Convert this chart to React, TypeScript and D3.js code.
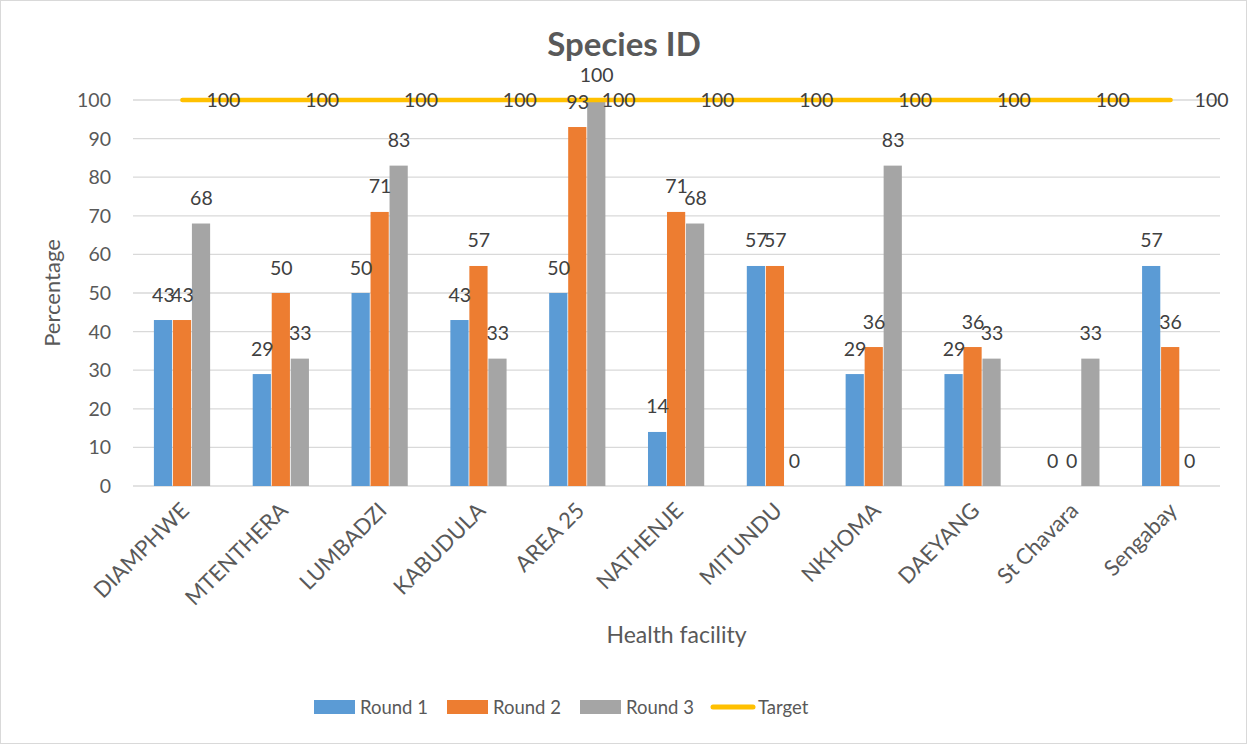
import React from "react";
import * as d3 from "d3";

// Facilities and per-round percentages
const facilities = [
  "DIAMPHWE", "MTENTHERA", "LUMBADZI", "KABUDULA", "AREA 25", "NATHENJE",
  "MITUNDU", "NKHOMA", "DAEYANG", "St Chavara", "Sengabay",
];
const round1 = [43, 29, 50, 43, 50, 14, 57, 29, 29, 0, 57];
const round2 = [43, 50, 71, 57, 93, 71, 57, 36, 36, 0, 36];
const round3 = [68, 33, 83, 33, 100, 68, 0, 83, 33, 33, 0];
const target = [100, 100, 100, 100, 100, 100, 100, 100, 100, 100, 100];
const yTicks = [0, 10, 20, 30, 40, 50, 60, 70, 80, 90, 100];

const seriesNames = ["Round 1", "Round 2", "Round 3"];
const seriesColors = ["#5B9BD5", "#ED7D31", "#A5A5A5"];
const targetColor = "#FFC000";

const W = 1247;
const H = 744;
const FONT = "Lato, 'Open Sans', sans-serif";

export default function App() {
  const plotLeft = 133;
  const plotRight = 1220;
  const plotTop = 100;
  const plotBottom = 486;

  const x0 = d3
    .scaleBand<string>()
    .domain(facilities)
    .range([plotLeft, plotRight])
    .paddingInner(0.423)
    .paddingOuter(0.2115);
  const x1 = d3
    .scaleBand<number>()
    .domain([0, 1, 2])
    .range([0, x0.bandwidth()]);
  const y = d3.scaleLinear().domain([0, 100]).range([plotBottom, plotTop]);

  const series = [round1, round2, round3];
  const center = (f: string) => (x0(f) as number) + x0.bandwidth() / 2;

  const targetLine = d3
    .line<number>()
    .x((_, i) => center(facilities[i]))
    .y((d) => y(d));

  const legendItems = [
    { label: seriesNames[0], color: seriesColors[0], x: 314, type: "bar" },
    { label: seriesNames[1], color: seriesColors[1], x: 447, type: "bar" },
    { label: seriesNames[2], color: seriesColors[2], x: 580, type: "bar" },
    { label: "Target", color: targetColor, x: 711, type: "line" },
  ];

  return (
    <div style={{ position: "absolute", left: 0, top: 0 }}>
      <svg width={W} height={H} style={{ display: "block", fontFamily: FONT }}>
        <rect x={0} y={0} width={W} height={H} fill="#fff" />
        <rect x={0.5} y={0.5} width={W - 1} height={H - 1} fill="none" stroke="#D9D9D9" />

        {/* title */}
        <text x={624} y={56} textAnchor="middle" fontSize={33} fontWeight="bold" fill="#595959">
          Species ID
        </text>

        {/* gridlines and y tick labels */}
        {yTicks.map((t) => (
          <g key={t}>
            <line x1={plotLeft} x2={plotRight} y1={y(t)} y2={y(t)} stroke="#D9D9D9" strokeWidth={1.3} />
            <text x={111} y={y(t) + 7} textAnchor="end" fontSize={19.5} fill="#595959">
              {t}
            </text>
          </g>
        ))}

        {/* bars */}
        {series.map((vals, si) =>
          vals.map((v, i) => {
            const bx = (x0(facilities[i]) as number) + (x1(si) as number);
            return (
              <rect
                key={`b${si}-${i}`}
                x={bx}
                y={y(v)}
                width={x1.bandwidth() - 0.8}
                height={y(0) - y(v)}
                fill={seriesColors[si]}
              />
            );
          })
        )}

        {/* target line */}
        <path d={targetLine(target) || ""} fill="none" stroke={targetColor} strokeWidth={4.5} strokeLinecap="round" />

        {/* bar value labels */}
        {series.map((vals, si) =>
          vals.map((v, i) => {
            const cx = (x0(facilities[i]) as number) + (x1(si) as number) + x1.bandwidth() / 2;
            return (
              <text
                key={`l${si}-${i}`}
                x={cx}
                y={y(v) - 18.5}
                textAnchor="middle"
                fontSize={19.5}
                fill="#404040"
              >
                {v}
              </text>
            );
          })
        )}

        {/* target value labels */}
        {target.map((v, i) => (
          <text key={`t${i}`} x={center(facilities[i]) + 24} y={y(v) + 7} fontSize={19.5} fill="#404040">
            {v}
          </text>
        ))}

        {/* x category labels */}
        {facilities.map((f) => (
          <text
            key={f}
            transform={`translate(${center(f) + 8},${plotBottom + 26}) rotate(-45)`}
            textAnchor="end"
            fontSize={22}
            fill="#595959"
          >
            {f}
          </text>
        ))}

        {/* axis titles */}
        <text x={(plotLeft + plotRight) / 2} y={643} textAnchor="middle" fontSize={23} fill="#595959">
          Health facility
        </text>
        <text
          transform={`translate(60,${(plotTop + plotBottom) / 2}) rotate(-90)`}
          textAnchor="middle"
          fontSize={22}
          fill="#595959"
        >
          Percentage
        </text>

        {/* legend */}
        {legendItems.map((it) => (
          <g key={it.label}>
            {it.type === "bar" ? (
              <rect x={it.x} y={700} width={41} height={14} fill={it.color} />
            ) : (
              <line x1={it.x + 2} x2={it.x + 42} y1={707} y2={707} stroke={it.color} strokeWidth={5} strokeLinecap="round" />
            )}
            <text x={it.x + (it.type === "bar" ? 46 : 47)} y={714} fontSize={18.5} fill="#595959">
              {it.label}
            </text>
          </g>
        ))}
      </svg>
    </div>
  );
}
